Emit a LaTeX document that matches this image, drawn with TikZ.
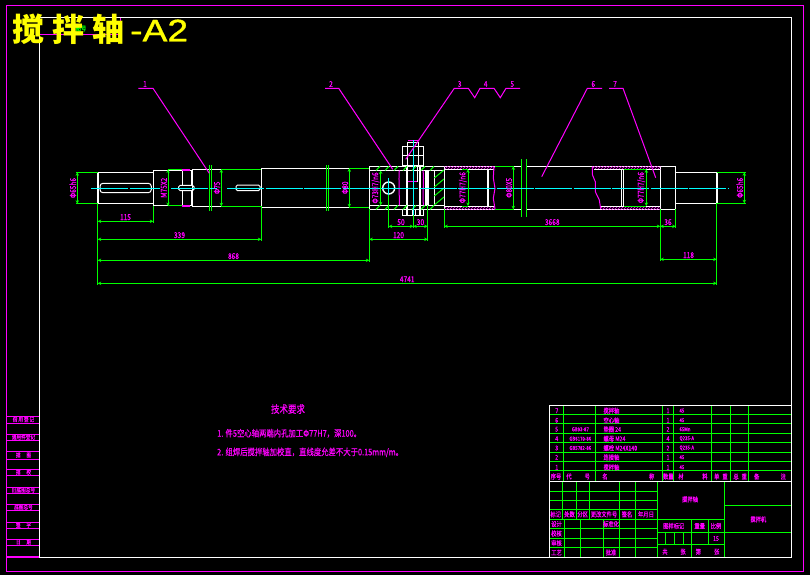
\documentclass[tikz,border=0pt]{standalone}
\usepackage{fontspec}
\setmainfont{Noto Sans CJK SC}
\newfontfamily\titlefont[FakeStretch=1.2,FakeBold=1.2]{Liberation Sans}
\newfontfamily\cellfont[FakeStretch=0.8,FakeBold=0.5]{Noto Sans CJK SC}
\usetikzlibrary{arrows.meta,patterns}
\definecolor{cadpink}{RGB}{255,0,255}
\definecolor{cadgreen}{RGB}{0,255,0}
\definecolor{cadcyan}{RGB}{0,255,255}
\definecolor{cadyellow}{RGB}{255,255,0}
\tikzset{
  part/.style={draw=white,line width=1pt},
  thickpart/.style={draw=white,line width=1.7pt},
  axis/.style={draw=cadcyan,line width=1pt},
  dimen/.style={draw=cadgreen,line width=1pt,<->,>={Stealth[length=3.5pt,width=3.4pt]}},
  extline/.style={draw=cadgreen,line width=1pt},
  leader/.style={draw=cadpink,line width=1pt},
  weld/.style={draw=none,pattern=north east lines,pattern color=cadpink},
  txt/.style={text=cadpink,inner sep=0.6pt,font=\cellfont\fontsize{8.2}{9}\selectfont},
  cell/.style={text=cadpink,inner sep=0pt,font=\cellfont\fontsize{6.6}{7}\selectfont},
  code/.style={text=cadpink,inner sep=0pt,font=\cellfont\fontsize{5.4}{6}\selectfont},
  req/.style={text=cadpink,inner sep=0pt,anchor=west,font=\cellfont\fontsize{9.2}{10}\selectfont},
  table/.style={draw=cadgreen,line width=1pt}
}
\begin{document}
\begin{tikzpicture}[x=1pt,y=-1pt]
  \fill[black] (0,0) rectangle (810,575);
  \useasboundingbox (0,0) rectangle (810,575);
  % frames
  \draw[leader] (6.5,5.5) rectangle (803,571);
  \draw[part] (39,18) rectangle (791,557);
  \draw[leader] (40,35) -- (120,35) -- (120,18);
  \node[cell,text=cadgreen] (tagno) at (81,28.5) {图号};
  \node[inner sep=0pt,anchor=west,text=cadyellow] (drawname) at (12,29)
    {\bfseries\fontsize{32}{34}\selectfont 搅\hspace{8pt}拌\hspace{8pt}轴\hspace{6pt}\titlefont\mdseries\fontsize{31}{34}\selectfont -A2};
  % side column
  \foreach \a/\b/\t [count=\i] in {416/423/{借\,用\,登\,记},434/440/通用件登记,451/459/描\quad 图,
      469/475/描\quad 校,487/493/旧底图总号,504/510/底图总号,522/528/签\quad 字,539/545/日\quad 期}{
    \draw[leader] (6.5,\a) -- (39,\a) (6.5,\b) -- (39,\b);
    \node[cell,font=\cellfont\fontsize{5.8}{6}\selectfont] (side\i) at (23.5,{(\a+\b)/2}) {\t};
  }
  \draw[cadpink,line width=1.7pt] (6.5,557) -- (39,557);
  % shaft
  \foreach \a/\b/\c/\d in {97.7/172.3/153.3/203.7,153.3/170/192/205.6,192/169.3/261.3/206.3,
      261.3/168.3/369.3/207.3,369.3/166.3/521.3/209.3,526.3/166.3/660.3/209.3,660.3/166.3/675.7/209.3,
      675.7/172.3/716.7/203.3}
    \draw[part] (\a,\b) rectangle (\c,\d);
  \draw[thickpart] (98,172.3) -- (98,203.7);
  \draw[thickpart] (716.7,172.3) -- (716.7,203.3);
  \draw[part,rounded corners=3pt] (100,183.3) rectangle (151.3,192.7);
  \draw[part,rounded corners=1.5pt] (178.7,185.3) rectangle (194,190.7);
  \draw[part,rounded corners=1.5pt] (236,185) rectangle (260,190.7);
  \draw[part] (182,170) -- (182,185.3) (182,190.7) -- (182,205.6);
  \draw[part] (191,170) -- (191,185.3) (191,190.7) -- (191,205.6);
  \draw[leader,line width=1.3pt] (182,170) -- (190,170) (182,206) -- (190,206);
  % coupling sleeve and bolt
  \draw[part] (369.3,170.5) -- (444.3,170.5) (369.3,205.3) -- (444.3,205.3);
  \draw[part] (434,170.5) -- (434,205.3) (444.3,166.3) -- (444.3,209.3);
  \draw[thickpart] (426,170.5) -- (426,205.3) (428.3,170.5) -- (428.3,205.3);
  \draw[thickpart] (407,165) -- (407,215) (420,165) -- (420,215);
  \draw[part] (417.5,166) -- (417.5,181.5);
  \draw[part] (402.3,146.3) rectangle (423.3,165);
  \draw[part] (402.3,155.3) -- (423.3,155.3) (407.3,146.3) -- (407.3,165) (418.3,146.3) -- (418.3,165);
  \draw[part] (407.3,146.3) -- (407.3,142.7) -- (418.3,142.7) -- (418.3,146.3);
  \draw[leader] (408,140.7) -- (418,140.7) (408,181.5) -- (417,181.5);
  \draw[part] (402.3,209.3) -- (402.3,215) -- (423.3,215) -- (423.3,209.3);
  \draw[part] (412,209.3) -- (412,215) (415,209.3) -- (415,215);
  \draw[part,line width=1.4pt] (388.7,188) circle (6);
  \draw[leader] (399.3,170.5) .. controls (398.5,180) and (399.5,195) .. (399.3,205.3);
  \draw[leader] (423,170.5) .. controls (424.5,180) and (422,195) .. (423.5,205.3);
  \foreach \x in {376,385,...,430}{
    \draw[extline] (\x,170.5) -- (\x+4,166.3);
    \draw[extline] (\x,209.3) -- (\x+4,205.3);
  }
  \foreach \y in {178,187,...,205}
    \draw[extline] (434.3,\y) -- (444,\y-8);
  % hollow tube
  \fill[weld] (444.3,166.6) rectangle (495,169.2);
  \fill[weld] (444.3,206.2) rectangle (495,209);
  \fill[weld] (592.3,166.6) rectangle (660.3,169.2);
  \fill[weld] (600.7,206.2) rectangle (660.3,209);
  \draw[part] (444.3,169.3) -- (494,169.3) (444.3,206) -- (494,206);
  \draw[part] (594,169.3) -- (660.3,169.3) (600,206) -- (660.3,206);
  \draw[thickpart] (487.7,169.3) -- (487.7,206);
  \draw[part] (621.6,169.3) -- (621.6,206);
  \draw[thickpart] (623.6,169.3) -- (623.6,206);
  \draw[leader] (494,166.5) -- (493.3,178) -- (495,188.3) -- (493.3,198.3) -- (495,209);
  \draw[leader] (592.3,166.5) -- (592.5,175) -- (595.3,181.7) -- (595.3,191.7) -- (599.3,200) -- (600.7,209);
  % break marks
  \foreach \x/\a/\b in {209.3/165/210.7,211.5/165/210.7,326.3/165/211,328.5/165/211,521.3/159/216.7,526.3/159/216.7}
    \draw[extline] (\x,\a) -- (\x,\b);
  % centre lines
  \draw[axis,dash pattern=on 37pt off 1.5pt] (91,188.3) -- (160,188.3);
  \draw[axis,dash pattern=on 37pt off 1.5pt] (171,188.3) -- (217,188.3);
  \draw[axis,dash pattern=on 37pt off 1.5pt] (227,188.3) -- (729,188.3);
  \draw[axis] (388.7,178) -- (388.7,195);
  \draw[axis] (413.3,140) -- (413.3,226);
  % extension lines
  \foreach \x/\a/\b in {97.7/204/285,153.3/205.6/223,261.3/206.3/241,369.3/209.3/262,388.7/195/228,
      413.3/215/228,427.7/205/241,444.3/209.3/228,660.3/209.3/261,675.7/209.3/228,716.7/203.3/285}
    \draw[extline] (\x,\a) -- (\x,\b);
  \foreach \y/\a/\b in {172.3/76/97.7,203.7/76/97.7,172.3/716.7/745.5,203.3/716.7/745.5,169.4/168/182,205.9/168/182,
      169.3/221.3/261.3,206.3/221.3/261.3,168.2/349.3/369.3,207.3/349.3/369.3,169.3/462/468,206/462/468,
      166.3/495/514.3,209.3/495/514.3,169.3/623.6/646.3,206/623.6/646.3}
    \draw[extline] (\a,\y) -- (\b,\y);
  % dimensions
  \foreach \a/\b/\y/\t [count=\i] in {97.7/153.3/221.3/115,97.7/261.3/239.3/339,97.7/369.3/260.3/868,
      97.7/716.7/283.3/4741,369.3/427.7/239.3/120,388.7/413.3/226.3/50,413.3/427.7/226.3/30,
      444.3/660.3/226.3/3668,660.3/675.7/226.3/36,660.3/716.7/259.3/118}
    \draw[dimen] (\a,\y) -- (\b,\y) node[txt,midway,above] (len\i) {\t};
  \foreach \x/\a/\b/\t [count=\i] in {77.3/172.3/203.7/Φ65h6,168/169.5/206/M75X2,221.3/169.3/206.3/Φ75,
      349.3/168.3/207.3/Φ80,380.7/170.5/205.3/{Φ73H7/n6},468/169.3/206/{Φ77H7/n6},513.3/166.3/209.3/Φ80X5,
      646.3/169.3/206/{Φ77H7/n6},744.3/172.3/203.3/Φ65h6}
    \draw[dimen] (\x,\a) -- (\x,\b) node[txt,midway,above,rotate=90] (dia\i) {\t};
  % leaders
  \foreach \t/\x/\l/\r/\ex/\ey in {1/145/138.3/153/209.3/173.3,2/331/325/338.7/392.7/169.3,
      6/593.3/602/587.3/541.7/176.7,7/615/609/623/655.7/177.7}{
    \node[txt] (num\t) at (\x,84) {\t};
    \coordinate (tip\t) at (\ex,\ey);
    \draw[leader] (\l,88.3) -- (\r,88.3) -- (tip\t);
  }
  \node[txt] (num3) at (459.7,84) {3};
  \node[txt] (num4) at (485.7,84) {4};
  \node[txt] (num5) at (512.3,84) {5};
  \coordinate (tip3) at (405.7,159.3);
  \draw[leader] (tip3) -- (454.3,88.3) -- (468.3,88.3) -- (474.7,97.7) -- (480,88.3) -- (494,88.3) -- (500.3,97.7) -- (506,88.3) -- (520,88.3);
  % technical notes
  \node[req,anchor=center,font=\cellfont\fontsize{10.6}{11}\selectfont] (reqhead) at (288,409) {技术要求};
  \node[req] (req1) at (217,433.3) {1. 件5空心轴两端内孔加工Φ77H7，深100。};
  \node[req] (req2) at (217,452.3) {2. 组焊后搅拌轴加校直，直线度允差不大于0.15mm/m。};
  % parts list
  \foreach \y in {414.3,423.3,433.3,442.3,452.3,461.3,470.3}
    \draw[table] (549.3,\y) -- (791,\y);
  \foreach \x in {563.3,595.3,662.3,673.3,711.3,730.3,748.3}
    \draw[table] (\x,405.3) -- (\x,481.3);
  \foreach \y/\n/\c/\nm/\q/\m [count=\i] in {410.7/7//搅拌轴/1/45,420.3/6//空心轴/1/45,429.3/5/GB93-87/垫圈 24/2/65Mn,
      438.7/4/GB6170-86/螺母 M24/4/Q235-A,448/3/GB5782-86/螺栓 M24X140/2/Q235-A,457.3/2//连接轴/1/45,467.3/1//搅拌轴/1/45}{
    \node[cell] (no\i) at (556.7,\y) {\n};
    \node[code] (std\i) at (580.3,\y) {\c};
    \node[cell,anchor=west] (nm\i) at (603.3,\y) {\nm};
    \node[cell] (qty\i) at (668,\y) {\q};
    \node[code,anchor=west] (mat\i) at (679.3,\y) {\m};
  }
  \foreach \x/\t [count=\i] in {556/序号,569/代,587.3/号,605/名,651.7/称,668.3/数量,681/材,705/料,716.7/单,725/重,736/总,744.3/重,756.7/备,783.3/注}
    \node[cell] (head\i) at (\x,476.5) {\t};
  % title block
  \foreach \y in {491.3,500.3,509.3,519.3,528.3,538.3,547.3}
    \draw[table] (549.3,\y) -- (657.3,\y);
  \foreach \x in {562.3,576.3,589,619,635}
    \draw[table] (\x,481.3) -- (\x,519.3);
  \foreach \x in {564.3,580.3,603,619,635}
    \draw[table] (\x,519.3) -- (\x,557);
  \draw[table] (657.3,481.3) -- (657.3,557) (724.3,481.3) -- (724.3,557);
  \draw[table] (657.3,519.3) -- (724.3,519.3) (657.3,532.3) -- (791,532.3) (657.3,544.3) -- (724.3,544.3) (724.3,505.3) -- (791,505.3);
  \foreach \x/\a/\b in {691.5/519.3/557,708.3/519.3/544.3,665.3/532.3/544.3,674.3/532.3/544.3,683.3/532.3/544.3}
    \draw[table] (\x,\a) -- (\x,\b);
  \draw[part] (549.3,405.3) -- (791,405.3) (549.3,405.3) -- (549.3,557) (549.3,481.3) -- (791,481.3);
  \foreach \x/\y/\t [count=\i] in {555.7/514.3/标记,569.5/514.3/处数,582.7/514.3/分区,604/514.3/更改文件号,627/514.3/签名,646/514.3/年月日,
      556.5/524/设计,611/524/标准化,556.5/533.5/校核,556.5/543/审核,556.5/552.5/工艺,611/552.5/批准,
      690/499.3/搅拌轴,758.3/519.3/搅拌机,673.7/526/图样标记,699.7/526/重量,716/526/比例,716/538.5/15,
      665/551.7/共,683/551.7/张,698.3/551.7/第,716.7/551.7/张}
    \node[cell] (tb\i) at (\x,\y) {\t};
\end{tikzpicture}
\end{document}
